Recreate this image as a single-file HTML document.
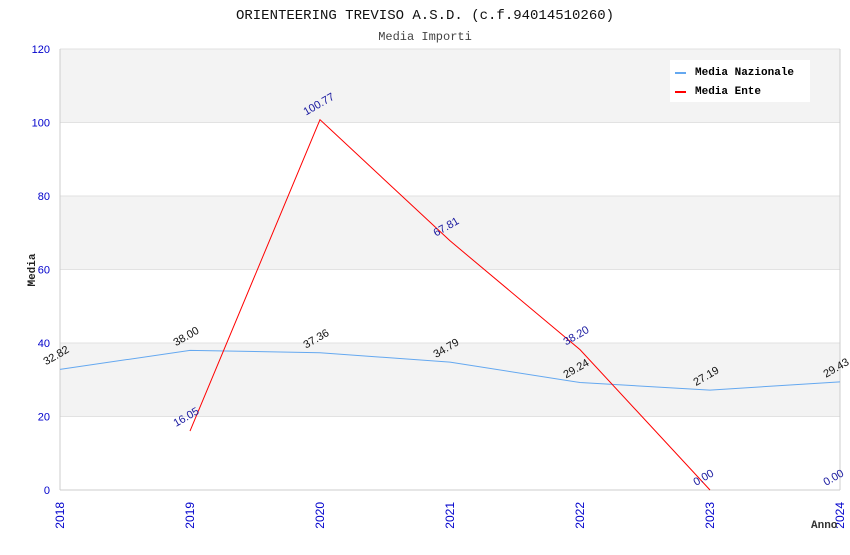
<!DOCTYPE html>
<html><head><meta charset="utf-8"><style>
body{margin:0;background:#fff;width:850px;height:550px;overflow:hidden}
svg text{font-family:"Liberation Sans",sans-serif}
.mono{font-family:"Liberation Mono",monospace}
</style></head><body>
<svg id="chart" width="850" height="550">
<text class="mono" x="425" y="19" text-anchor="middle" font-size="14" fill="#111">ORIENTEERING TREVISO A.S.D. (c.f.94014510260)</text>
<text class="mono" x="425" y="40" text-anchor="middle" font-size="12" fill="#444">Media Importi</text>
<g id="bands"></g><g id="axes"></g><g id="series"></g><g id="labels"></g>
<text class="mono" x="35" y="270" font-size="11" font-weight="bold" fill="#222" transform="rotate(-90 35 270)" text-anchor="middle">Media</text>
<text class="mono" x="811" y="528" font-size="11" font-weight="bold" fill="#333">Anno</text>
<g>
<rect x="670" y="60" width="140" height="42" fill="#fff"/>
<g><rect x="675" y="72" width="11" height="2" fill="#64a8f0"/><text class="mono" x="695" y="75" font-size="11" font-weight="bold" fill="#000">Media Nazionale</text></g>
<g><rect x="675" y="91" width="11" height="2" fill="#ff0000"/><text class="mono" x="695" y="94" font-size="11" font-weight="bold" fill="#000">Media Ente</text></g>
</g>
</svg>
<script>
const years=["2018","2019","2020","2021","2022","2023","2024"];
const nazionale=[32.82,38.00,37.36,34.79,29.24,27.19,29.43];
const ente=[null,16.05,100.77,67.81,38.20,0.00,0.00];
const enteLineEnd=5;
const yTicks=[0,20,40,60,80,100,120];
const NS="http://www.w3.org/2000/svg";
const X0=60,X1=840,Y0=490,Y1=49,YMAX=120;
const xs=i=>X0+i*(X1-X0)/(years.length-1);
const ys=v=>Y0-v*(Y0-Y1)/YMAX;
function mk(p,t,a){const e=document.createElementNS(NS,t);for(const k in a)e.setAttribute(k,a[k]);p.appendChild(e);return e;}
const bands=document.getElementById('bands'),axes=document.getElementById('axes'),series=document.getElementById('series'),labels=document.getElementById('labels');
for(let i=0;i<yTicks.length-1;i++){
 const r=mk(bands,'rect',{x:X0,y:ys(yTicks[i+1]),width:X1-X0,height:ys(yTicks[i])-ys(yTicks[i+1]),fill:(i%2==1)?'#f3f3f3':'#fff'});
 
 
}
yTicks.forEach(v=>{
 const l=mk(axes,'line',{x1:X0,x2:X1,y1:ys(v),y2:ys(v),stroke:'#e2e2e2'});
 
 
 const t=mk(axes,'text',{x:X0-10,y:ys(v)+4,'text-anchor':'end','font-size':11,fill:'#0000cc'});t.textContent=v;
 
 
});
mk(axes,'line',{x1:X0,x2:X0,y1:Y1,y2:Y0,stroke:'#ccc'});
mk(axes,'line',{x1:X1,x2:X1,y1:Y1,y2:Y0,stroke:'#ccc'});
mk(axes,'line',{x1:X0,x2:X1,y1:Y0,y2:Y0,stroke:'#ccc'});
years.forEach((y,i)=>{
 const x=xs(i)+4,yy=502;
 const t=mk(axes,'text',{x:x,y:yy,'text-anchor':'end','font-size':12,fill:'#0000cc',transform:`rotate(-90 ${x} ${yy})`});t.textContent=y;
 
 
});
const pn=mk(series,'polyline',{points:nazionale.map((v,i)=>xs(i)+','+ys(v)).join(' '),fill:'none',stroke:'#64a8f0','stroke-width':1});


const ep=[];ente.forEach((v,i)=>{if(v!==null&&i<=enteLineEnd)ep.push(xs(i)+','+ys(v));});
const pe=mk(series,'polyline',{points:ep.join(' '),fill:'none',stroke:'#ff0000','stroke-width':1});


function lab(v,i,col,name){
 const x=xs(i)-14,y=ys(v)-4;
 const t=mk(labels,'text',{x:x,y:y,'font-size':11,fill:col,transform:`rotate(-30 ${x} ${y})`});t.textContent=v.toFixed(2);
 
 
}
nazionale.forEach((v,i)=>lab(v,i,'#111','value-label-nazionale'));
ente.forEach((v,i)=>{if(v!==null)lab(v,i,'#1a1aa0','value-label-ente');});
</script>
</body></html>
